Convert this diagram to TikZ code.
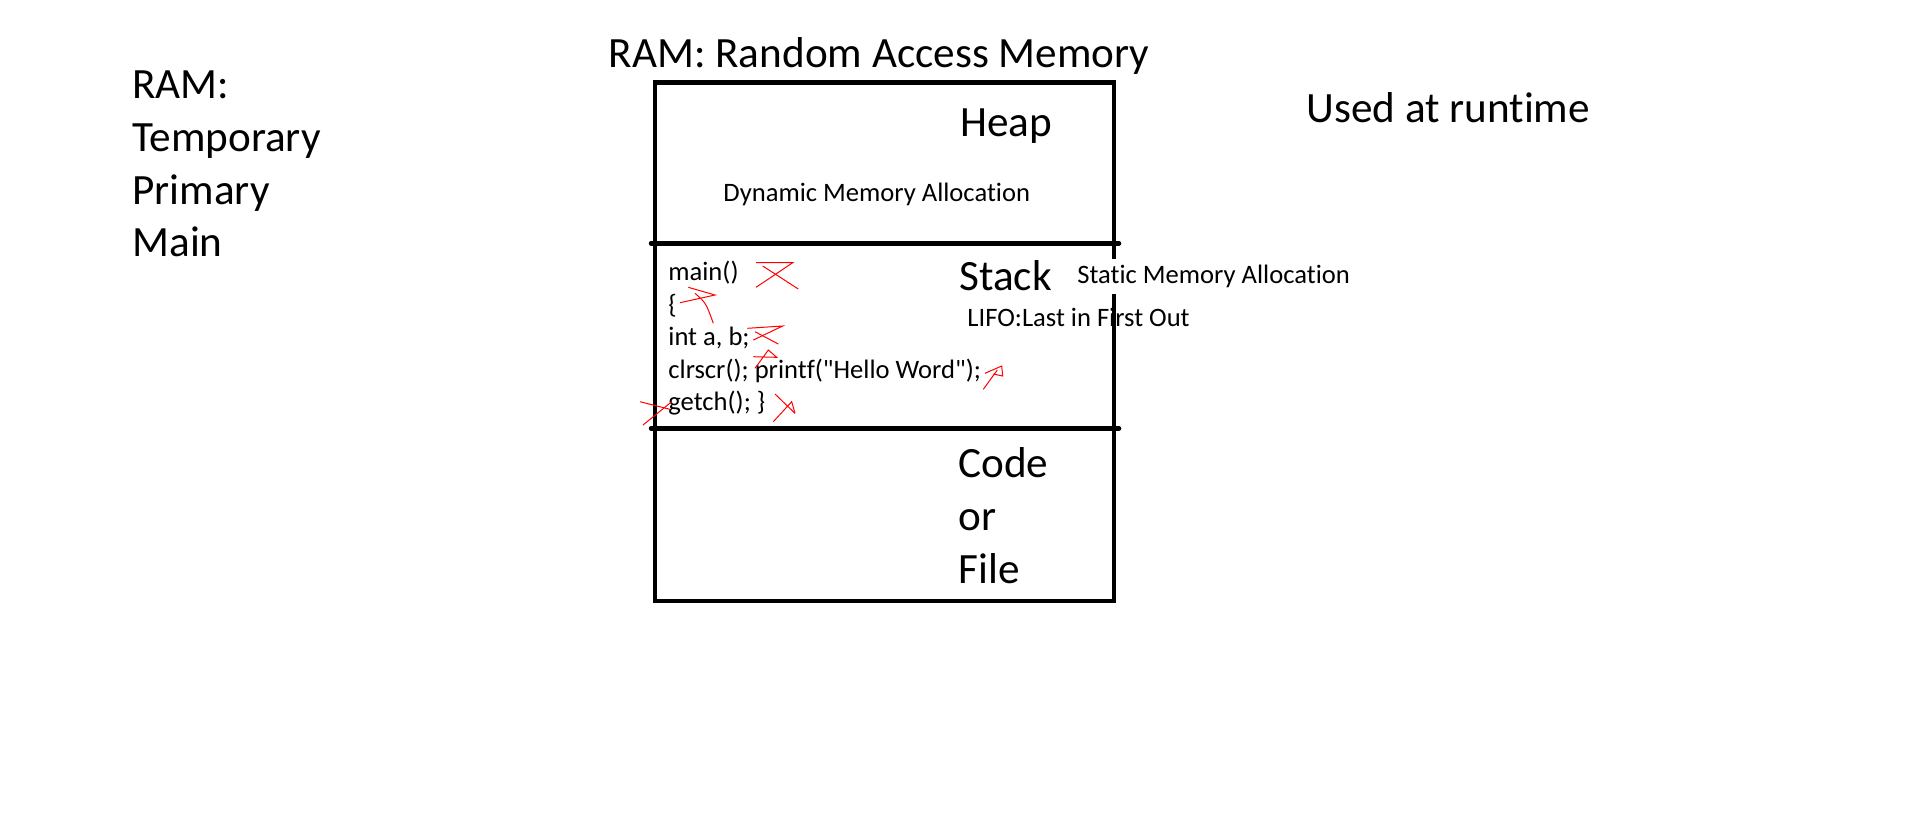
\documentclass[tikz,border=0pt]{standalone}
\usepackage{fontspec}
\setmainfont{Carlito}[Ligatures={TeXOff,NoCommon}]
\usetikzlibrary{positioning}

\begin{document}
\begin{tikzpicture}[x=0.5pt,y=-0.5pt,
  bigtext/.style={font=\fontsize{21.6}{26.35}\selectfont,align=left,inner sep=0pt,anchor=base west},
  smalltext/.style={font=\fontsize{13.3}{16.25}\selectfont,align=left,inner sep=0pt,anchor=base west},
  wall/.style={line width=2.25pt,black},
  scribble/.style={red,line width=0.5pt}
]
\useasboundingbox (0,0) rectangle (1914,837);

% left list and titles (multi-line nodes sit on their last line)
\node[bigtext] (kinds) at (132,256.7) {RAM:\\Temporary\\Primary\\Main};
\node[bigtext,anchor=base] (title) at (879,67.7) {RAM: Random Access Memory};
\node[bigtext] (runtime) at (1306,122.7) {Used at runtime};

% heap
\node[bigtext] (heap) at (960,136) {Heap};
\node[smalltext] (dynamic) at (723,201.7) {Dynamic Memory Allocation};

% stack
\node[bigtext] (stack) at (959,290) {Stack};
\node[smalltext] (lifo) at (967,326) {LIFO:Last in First Out};
\node[smalltext] (prog) at (668,410.7) {main()\\\{\\int a, b;\\clrscr(); printf("Hello Word");\\getch(); \}};

% code
\node[bigtext] (file) at (958,583.3) {Code\\or\\File};

% memory block
\draw[wall] (655,82.3) rectangle (1114,601);
\draw[wall,line cap=round] (651,243.3) -- (1119,243.3);
\draw[wall,line cap=round] (651,428.3) -- (1119,428.3);

\node[smalltext,fill=white,inner sep=3pt] (static) at (1071,283.3) {Static Memory Allocation};

% crossed out lines
\draw[scribble] (756,262.7) -- (792.7,262.7) -- (756,287.3);
\draw[scribble] (762.7,266) -- (798.3,289);
\draw[scribble] (688.3,287.3) -- (715,295) -- (680,302.7);
\draw[scribble] (695,293.3) .. controls (706,303) .. (713.3,323.3);
\draw[scribble] (747.3,328.3) -- (782.7,326) -- (753.3,340);
\draw[scribble] (755,331.7) -- (778.3,344);
\draw[scribble] (753.3,356.7) -- (776.7,357.3) -- (768.3,350) -- (755,368.3);
\draw[scribble] (640,401.7) -- (670,409.3);
\draw[scribble] (643,425) -- (671.7,401.7);
\draw[scribble] (775,394) -- (795,413.3);
\draw[scribble] (773.3,421.7) -- (791.7,401.7) -- (795,413.3);
\draw[scribble] (985,373.3) -- (1001.7,366) -- (1002.7,376) -- (993.3,374);
\draw[scribble] (983.3,389.3) -- (997.3,370);
\end{tikzpicture}
\end{document}
